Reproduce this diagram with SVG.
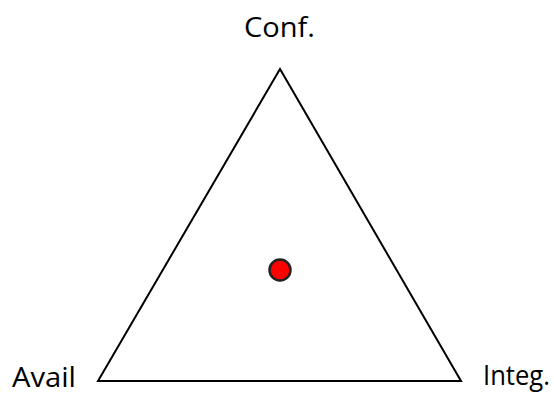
<svg xmlns="http://www.w3.org/2000/svg" width="554" height="394" viewBox="0 0 554 394">
<style>
.lbl{font-family:"Open Sans","DejaVu Sans",sans-serif;font-size:27px;fill:#000}
</style>
<rect width="554" height="394" fill="#fff"/>
<g id="connectors">
<polygon points="280,69 98,381 461,381" fill="none" stroke="#000" stroke-width="2"/>
</g>
<g id="point"><circle cx="280" cy="270" r="10.5" fill="#ff0000" stroke="#222" stroke-width="2.5"/></g>
<g id="conf"><text class="lbl" x="244" y="37" textLength="71" lengthAdjust="spacingAndGlyphs">Conf.</text></g>
<g id="avail"><text class="lbl" x="12" y="387" textLength="64" lengthAdjust="spacingAndGlyphs">Avail</text></g>
<g id="integ"><text class="lbl" x="483" y="385" textLength="67" lengthAdjust="spacingAndGlyphs">Integ.</text></g>
</svg>
